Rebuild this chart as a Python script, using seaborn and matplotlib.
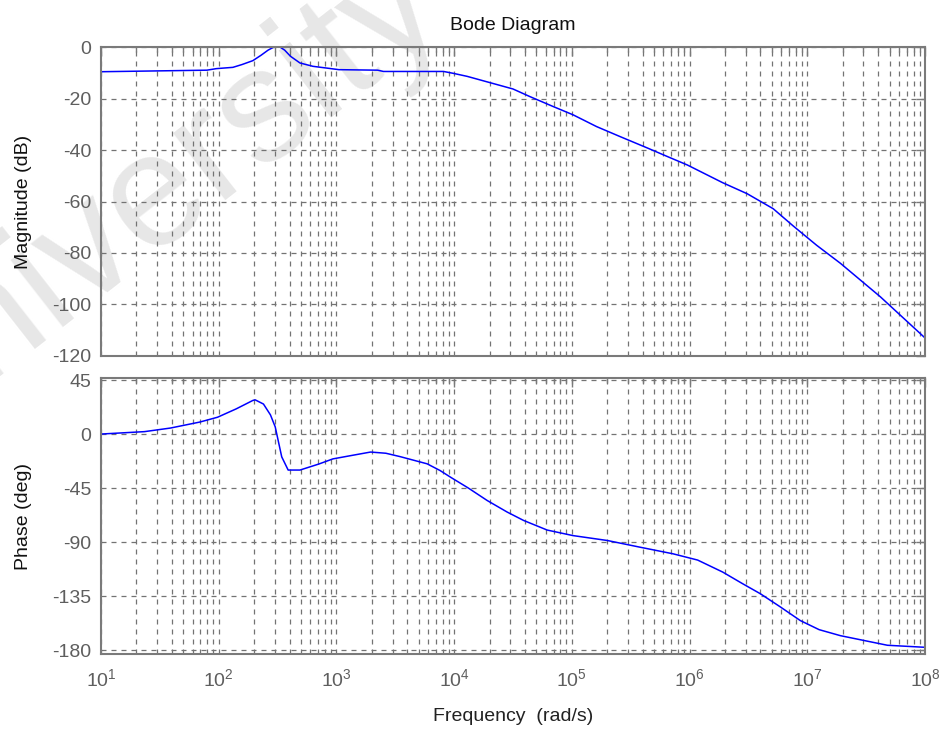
import numpy as np
import pandas as pd
import matplotlib
matplotlib.use("Agg")
import matplotlib.pyplot as plt
import seaborn as sns
from matplotlib.ticker import FixedLocator, LogLocator, FuncFormatter, NullFormatter

# Frequency response samples (rad/s)
mag_freq = [1.0e1, 2.82e1, 7.94e1, 9.55e1, 1.32e2, 1.58e2, 1.95e2, 2.29e2, 2.63e2,
            2.95e2, 3.31e2, 3.63e2, 4.07e2, 4.90e2, 6.31e2, 8.32e2, 1.05e3, 2.24e3,
            2.51e3, 8.13e3, 9.77e3, 1.29e4, 2.00e4, 3.16e4, 4.37e4, 6.92e4, 1.02e5,
            1.62e5, 2.57e5, 4.37e5, 6.76e5, 9.55e5, 1.91e6, 3.09e6, 5.13e6, 7.59e6,
            1.20e7, 1.91e7, 4.17e7, 1.0e8]
mag_db = [-9.6, -9.3, -9.0, -8.4, -7.9, -6.8, -5.3, -3.2, -1.2,
          0.0, 0.0, -1.2, -3.6, -6.2, -7.5, -8.2, -8.8, -9.0,
          -9.5, -9.5, -10.2, -11.4, -13.8, -16.3, -19.2, -23.1, -26.3,
          -30.9, -34.8, -39.2, -42.9, -45.8, -52.7, -57.0, -62.8, -69.5,
          -77.0, -84.0, -97.0, -113.0]

phase_freq = [1.0e1, 2.34e1, 3.89e1, 6.92e1, 9.77e1, 1.41e2, 1.95e2, 2.04e2, 2.40e2,
              2.75e2, 3.02e2, 3.43e2, 3.89e2, 4.90e2, 7.08e2, 9.33e2, 1.32e3, 1.95e3,
              2.63e3, 3.47e3, 5.89e3, 7.59e3, 9.33e3, 1.32e4, 1.91e4, 2.82e4, 3.89e4,
              6.17e4, 1.02e5, 2.00e5, 3.80e5, 7.24e5, 1.17e6, 1.91e6, 2.82e6, 3.98e6,
              5.89e6, 8.71e6, 1.26e7, 1.91e7, 3.24e7, 4.79e7, 1.0e8]
phase_deg = [0.0, 2.0, 5.0, 10.0, 14.0, 21.0, 28.0, 28.5, 25.0,
             16.0, 6.0, -19.0, -30.0, -30.0, -25.0, -20.7, -18.0, -15.0,
             -16.0, -18.8, -24.8, -30.4, -36.0, -45.0, -55.4, -65.0, -72.0,
             -80.0, -84.6, -88.7, -94.3, -99.8, -105.0, -115.0, -124.7, -133.0,
             -144.0, -155.4, -163.0, -168.0, -172.6, -176.0, -177.7]

freq_decades = [1e1, 1e2, 1e3, 1e4, 1e5, 1e6, 1e7, 1e8]
freq_labels = [r"$\mathregular{10^{%d}}$" % k for k in range(1, 9)]
mag_ticks = [-120, -100, -80, -60, -40, -20, 0]
phase_ticks = [-180, -135, -90, -45, 0, 45]

mag_df = pd.DataFrame({"freq": mag_freq, "mag": mag_db})
phase_df = pd.DataFrame({"freq": phase_freq, "phase": phase_deg})

sns.set_theme(style="white")
plt.rcParams["font.family"] = ["Liberation Sans", "DejaVu Sans"]
plt.rcParams["axes.unicode_minus"] = False
plt.rcParams["mathtext.fontset"] = "custom"
plt.rcParams["mathtext.rm"] = "Liberation Sans"
plt.rcParams["mathtext.it"] = "Liberation Sans:italic"
plt.rcParams["mathtext.bf"] = "Liberation Sans:bold"

GRID = "#737373"
SPINE = "#7a7a7a"
TICKTXT = "#5e5e5e"
LINE = "#0000ff"

fig = plt.figure(figsize=(9.42, 7.31), dpi=100)
fig.patch.set_facecolor("white")

# faint watermark behind the axes
fig.text(0.180, 0.679, "University", rotation=38, rotation_mode="anchor",
         ha="center", va="baseline", fontsize=116, color="#e7e7e7",
         family="Liberation Sans", zorder=-10)

ax1 = fig.add_axes([0.1072, 0.5130, 0.8748, 0.4227])
ax2 = fig.add_axes([0.1072, 0.1053, 0.8748, 0.3776], sharex=ax1)

for ax in (ax1, ax2):
    ax.set_facecolor("none")
    ax.set_xscale("log")

sns.lineplot(data=mag_df, x="freq", y="mag", ax=ax1, color=LINE, lw=1.1,
             sort=False, estimator=None)
sns.lineplot(data=phase_df, x="freq", y="phase", ax=ax2, color=LINE, lw=1.1,
             sort=False, estimator=None)

ax1.set_ylim(-120, 0)
ax2.set_ylim(-183.3, 46.7)
ax1.set_xlim(1e1, 1e8)

ax1.yaxis.set_major_locator(FixedLocator(mag_ticks))
ax2.yaxis.set_major_locator(FixedLocator(phase_ticks))

for ax in (ax1, ax2):
    ax.xaxis.set_major_locator(FixedLocator(freq_decades))
    ax.xaxis.set_minor_locator(LogLocator(base=10, subs=np.arange(2, 10), numticks=20))
    ax.xaxis.set_minor_formatter(NullFormatter())
    ax.grid(True, which="both", axis="x", color=GRID, lw=0.9, ls=(0, (4, 4)))
    ax.grid(True, which="major", axis="y", color=GRID, lw=0.9, ls=(0, (4, 4)))
    ax.tick_params(which="both", direction="in", top=True, right=True,
                   color=SPINE, width=1.0, labelcolor=TICKTXT, labelsize=14)
    ax.tick_params(which="major", length=6.5, pad=7)
    ax.tick_params(which="minor", length=3.5)
    for s in ax.spines.values():
        s.set_color(SPINE)
        s.set_linewidth(1.5)
        s.set_visible(True)
    ax.set_xlabel("")

ax1.tick_params(axis="x", labelbottom=False)
ax2.xaxis.set_major_formatter(FuncFormatter(lambda v, p: freq_labels[int(round(np.log10(v))) - 1]))
ax2.tick_params(axis="x", pad=10)

ax1.set_title("Bode Diagram", fontsize=14, color="#111111", pad=12)
ax1.set_ylabel("Magnitude (dB)", fontsize=14, color="#111111")
ax2.set_ylabel("Phase (deg)", fontsize=14, color="#111111")
ax1.yaxis.set_label_coords(-0.084, 0.5)
ax2.yaxis.set_label_coords(-0.084, 0.5)
ax2.set_xlabel("Frequency  (rad/s)", fontsize=14, color="#222222", labelpad=13)

fig.savefig("out.png", dpi=100, facecolor="white")
